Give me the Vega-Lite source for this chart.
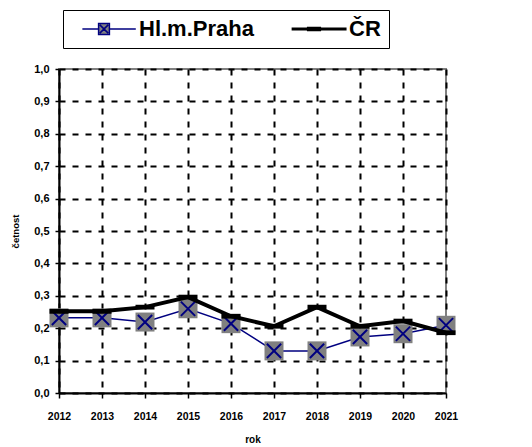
{
  "$schema": "https://vega.github.io/schema/vega-lite/v6.json",
  "autosize": {"type": "none"},
  "padding": {"left": 59, "top": 69, "right": 86, "bottom": 54},
  "width": 387,
  "height": 324,
  "background": "white",
  "config": {
    "font": "Liberation Sans",
    "view": {"stroke": "#808080", "strokeWidth": 2}
  },
  "data": {
    "values": [
      {"rok": 2012, "serie": "Hl.m.Praha", "hodnota": 0.232},
      {"rok": 2013, "serie": "Hl.m.Praha", "hodnota": 0.232},
      {"rok": 2014, "serie": "Hl.m.Praha", "hodnota": 0.219},
      {"rok": 2015, "serie": "Hl.m.Praha", "hodnota": 0.26},
      {"rok": 2016, "serie": "Hl.m.Praha", "hodnota": 0.214},
      {"rok": 2017, "serie": "Hl.m.Praha", "hodnota": 0.13},
      {"rok": 2018, "serie": "Hl.m.Praha", "hodnota": 0.13},
      {"rok": 2019, "serie": "Hl.m.Praha", "hodnota": 0.173},
      {"rok": 2020, "serie": "Hl.m.Praha", "hodnota": 0.183},
      {"rok": 2021, "serie": "Hl.m.Praha", "hodnota": 0.209},
      {"rok": 2012, "serie": "ČR", "hodnota": 0.252},
      {"rok": 2013, "serie": "ČR", "hodnota": 0.252},
      {"rok": 2014, "serie": "ČR", "hodnota": 0.265},
      {"rok": 2015, "serie": "ČR", "hodnota": 0.296},
      {"rok": 2016, "serie": "ČR", "hodnota": 0.237},
      {"rok": 2017, "serie": "ČR", "hodnota": 0.206},
      {"rok": 2018, "serie": "ČR", "hodnota": 0.265},
      {"rok": 2019, "serie": "ČR", "hodnota": 0.206},
      {"rok": 2020, "serie": "ČR", "hodnota": 0.222},
      {"rok": 2021, "serie": "ČR", "hodnota": 0.186}
    ]
  },
  "encoding": {
    "x": {
      "field": "rok", "type": "ordinal",
      "scale": {"type": "point", "padding": 0},
      "axis": {
        "title": "rok", "labelAngle": 0,
        "labelFont": "Liberation Sans", "labelFontSize": 10.5, "labelFontWeight": "bold", "labelColor": "black",
        "labelPadding": 13, "tickSize": 5, "tickColor": "black", "tickWidth": 1.5,
        "domainColor": "black", "domainWidth": 2,
        "grid": true, "gridColor": "black", "gridDash": [6, 7], "gridWidth": 2, "gridOpacity": 1,
        "titleFont": "Liberation Sans", "titleFontSize": 10, "titleFontWeight": "bold", "titleColor": "black", "titlePadding": 13
      }
    },
    "y": {
      "field": "hodnota", "type": "quantitative",
      "scale": {"domain": [0, 1], "nice": false},
      "axis": {
        "title": "četnost",
        "values": [0, 0.1, 0.2, 0.3, 0.4, 0.5, 0.6, 0.7, 0.8, 0.9, 1],
        "labelExpr": "replace(format(datum.value, '.1f'), '.', ',')",
        "labelFont": "Liberation Sans", "labelFontSize": 11, "labelFontWeight": "bold", "labelColor": "black",
        "labelPadding": 6, "tickSize": 4, "tickColor": "black", "tickWidth": 1.5,
        "domainColor": "black", "domainWidth": 2,
        "grid": true, "gridColor": "black", "gridDash": [6, 7], "gridWidth": 2, "gridOpacity": 1,
        "titleFont": "Liberation Sans", "titleFontSize": 9.5, "titleFontWeight": "bold", "titleColor": "black", "titlePadding": 13
      }
    }
  },
  "layer": [
    {
      "mark": {"type": "point", "filled": true, "opacity": 0, "strokeWidth": 1.5},
      "encoding": {
        "color": {
          "field": "serie", "type": "nominal",
          "scale": {"domain": ["Hl.m.Praha", "ČR"], "range": ["#808080", "#000000"]},
          "legend": {
            "title": null, "orient": "none", "legendX": 4, "legendY": -59, "direction": "horizontal",
            "symbolSize": 4045, "symbolStrokeWidth": 1.5, "symbolOpacity": 1, "clipHeight": 22,
            "labelFont": "Liberation Sans", "labelFontSize": 22, "labelFontWeight": "bold", "labelColor": "black",
            "labelOffset": 2, "labelLimit": 300, "columnPadding": 27, "padding": 8,
            "strokeColor": "black", "fillColor": "white",
            "encode": {"symbols": {"update": {"opacity": {"value": 1}}}}
          }
        },
        "stroke": {
          "field": "serie", "type": "nominal",
          "scale": {"domain": ["Hl.m.Praha", "ČR"], "range": ["#000080", "#000000"]},
          "legend": {
            "title": null, "orient": "none", "legendX": 4, "legendY": -59, "direction": "horizontal",
            "symbolSize": 4045, "symbolStrokeWidth": 1.5, "symbolOpacity": 1, "clipHeight": 22,
            "labelFont": "Liberation Sans", "labelFontSize": 22, "labelFontWeight": "bold", "labelColor": "black",
            "labelOffset": 2, "labelLimit": 300, "columnPadding": 27, "padding": 8,
            "strokeColor": "black", "fillColor": "white"
          }
        },
        "shape": {
          "field": "serie", "type": "nominal",
          "scale": {
            "domain": ["Hl.m.Praha", "ČR"],
            "range": [
              "M-0.17,-0.17H0.17V0.17H-0.17ZM-0.68,0H-0.17M0.17,0H1M-0.13,-0.13L0.13,0.13M0.13,-0.13L-0.13,0.13",
              "M-0.68,-0.02H1V0.02H-0.68ZM-0.2,-0.05H0.2V0.05H-0.2Z"
            ]
          },
          "legend": {
            "title": null, "orient": "none", "legendX": 4, "legendY": -59, "direction": "horizontal",
            "symbolSize": 4045, "symbolStrokeWidth": 1.5, "symbolOpacity": 1, "clipHeight": 22,
            "labelFont": "Liberation Sans", "labelFontSize": 22, "labelFontWeight": "bold", "labelColor": "black",
            "labelOffset": 2, "labelLimit": 300, "columnPadding": 27, "padding": 8,
            "strokeColor": "black", "fillColor": "white"
          }
        }
      }
    },
    {
      "transform": [{"filter": "datum.serie === 'Hl.m.Praha'"}],
      "mark": {"type": "line", "color": "#000080", "strokeWidth": 1.5},
      "encoding": {}
    },
    {
      "transform": [{"filter": "datum.serie === 'Hl.m.Praha'"}],
      "mark": {"type": "point", "shape": "square", "filled": true, "fill": "#808080", "strokeWidth": 0, "opacity": 1, "size": 361},
      "encoding": {}
    },
    {
      "transform": [{"filter": "datum.serie === 'Hl.m.Praha'"}],
      "mark": {"type": "point", "shape": "M-0.75,-0.75L0.75,0.75M0.75,-0.75L-0.75,0.75", "filled": false, "stroke": "#000080", "strokeWidth": 2, "opacity": 1, "size": 361},
      "encoding": {}
    },
    {
      "transform": [{"filter": "datum.serie === 'ČR'"}],
      "mark": {"type": "line", "color": "#000000", "strokeWidth": 4},
      "encoding": {}
    },
    {
      "transform": [{"filter": "datum.serie === 'ČR'"}],
      "mark": {"type": "point", "shape": "M-1,-0.25H1V0.25H-1Z", "filled": true, "fill": "#000000", "strokeWidth": 0, "opacity": 1, "size": 361},
      "encoding": {}
    }
  ]
}
